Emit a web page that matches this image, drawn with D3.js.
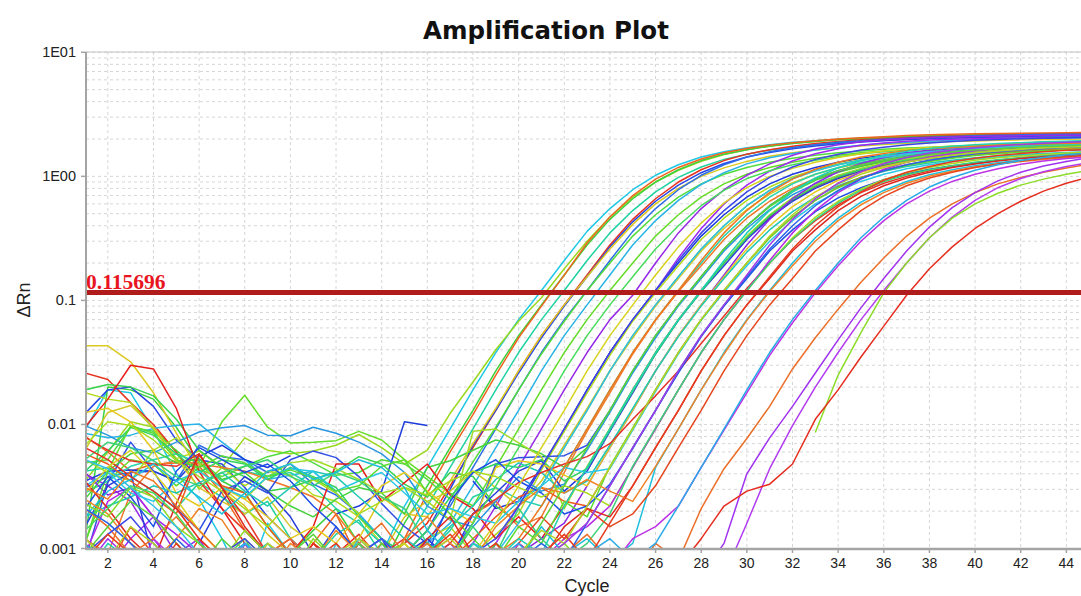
<!DOCTYPE html>
<html>
<head>
<meta charset="utf-8">
<script src="https://cdn.jsdelivr.net/npm/d3@7"></script>
<style>
  body { margin: 0; background: #fff; }
  svg { display: block; }
</style>
</head>
<body>
<svg id="chart" width="1081" height="596"></svg>
<script>
// Amplification plot - delta Rn per cycle, one line per well
const cycles = d3.range(1, 46);
const xTicks = d3.range(2, 46, 2);
const yTicks = [0.001, 0.01, 0.1, 1, 10];
const yTickLabels = ['0.001', '0.01', '0.1', '1E00', '1E01'];
const threshold = 0.115696;

const wellColors = [
  '#1ec8e6', '#9ad81e', '#3cd23c', '#f0641e', '#1ed2a0', '#e6321e', '#2846e6', '#dcc81e',
  '#2d6ee6', '#50dc3c', '#28b4e6', '#64dc28', '#9628e6', '#a028f0', '#1e3cdc', '#b4dc1e',
  '#3cd250', '#d2c828', '#28d2aa', '#f07828', '#3250e6', '#46d23c', '#2896e0', '#e61e1e',
  '#a0dc28', '#283cdc', '#32d264', '#8c28e6', '#e6c81e', '#1ec8b4', '#ee5a1e', '#28c8e6',
  '#5adc32', '#e63228', '#1e50e6', '#aadc1e', '#b428e6', '#3cd278', '#dc281e', '#1ebedc',
  '#f08228', '#e6461e', '#be32e6', '#ec6e28', '#a032f0', '#b43cf0', '#8cdc28', '#e62d1e',
  '#46dc5a', '#d7d21e', '#3c46e6', '#32bee6', '#f0781e', '#5ad23c', '#1ed2b4', '#2864e6',
  '#b4d228', '#e63c1e', '#a03ce6', '#28aae6'
];

// values for cycles 1..45 (null = negative reading, not drawn on log axis)
const wellValues = [
  [.009,.019,.018,.009,.004,.0025,.0012,.0005,.0016,.0009,.0004,.0011,.0006,.0009,.0022,
   .0045,.0092,.019,.038,.07,.12,.21,.36,.55,.78,1.02,1.24,1.43,1.58,1.7,
   1.8,1.88,1.94,1.99,2.03,2.07,2.1,2.12,2.14,2.16,2.17,2.18,2.19,2.2,2.21],
  [.0035,.006,.0105,.0095,.006,.003,.0045,.0078,.0062,.0058,.0061,.0068,.0083,.0065,.0048,
   .0062,.0123,.022,.04,.068,.105,.18,.3,.47,.68,.9,1.12,1.32,1.5,1.64,
   1.76,1.85,1.92,1.98,2.02,2.06,2.09,2.11,2.13,2.15,2.16,2.17,2.18,2.19,2.2],
  [.0012,.02,.019,.016,.0095,.005,.0035,.0028,.0015,.0009,.0014,.0021,.0011,.0007,.0016,
   .0032,.0065,.013,.027,.052,.092,.16,.28,.45,.66,.9,1.13,1.34,1.51,1.64,
   1.75,1.84,1.91,1.97,2.01,2.05,2.09,2.11,2.13,2.15,2.17,2.18,2.19,2.2,2.21],
  [.008,.006,.0042,.0048,.0049,.0046,.0028,.0014,.0009,.0006,.0011,.0019,.0008,.0005,.0012,
   .0028,.006,.012,.025,.05,.09,.16,.29,.47,.7,.95,1.18,1.38,1.55,1.68,
   1.78,1.87,1.94,2.0,2.05,2.09,2.13,2.16,2.18,2.2,2.22,2.23,2.24,2.25,2.26],
  [.0042,.0045,.0038,.0029,.0021,.0034,.0026,.0019,.0024,.0012,.0008,.0013,.0017,.0009,.0011,
   .0022,.0045,.0092,.019,.038,.07,.12,.21,.35,.53,.75,.98,1.19,1.37,1.51,
   1.63,1.72,1.8,1.86,1.91,1.95,1.98,2.01,2.03,2.05,2.06,2.07,2.08,2.09,2.1],
  [.026,.023,.015,.01,.006,.0035,.0021,.0014,.0009,.0012,.0006,.0009,.0013,.0008,.0011,
   .0016,.0032,.0065,.013,.027,.052,.092,.16,.28,.45,.66,.9,1.13,1.34,1.51,
   1.64,1.75,1.84,1.91,1.97,2.01,2.05,2.09,2.11,2.13,2.15,2.17,2.18,2.19,2.2],
  [.0122,.019,.02,.014,.0075,.0052,.0048,.0031,.0018,.0012,.0008,.0015,.0009,.0005,.0009,
   .0014,.003,.0068,.013,.026,.05,.09,.155,.27,.43,.63,.85,1.07,1.27,1.43,
   1.56,1.67,1.76,1.83,1.89,1.94,1.98,2.01,2.04,2.06,2.08,2.1,2.11,2.12,2.13],
  [.043,.043,.032,.018,.0085,.0042,.0031,.0022,.0013,.0009,.0005,.0007,.0012,.0026,.0019,
   .0018,.0035,.007,.0135,.027,.052,.092,.155,.26,.41,.6,.8,1.0,1.17,1.32,
   1.45,1.55,1.63,1.7,1.76,1.81,1.85,1.88,1.91,1.93,1.95,1.97,1.98,1.99,2.0],
  [.0031,.0038,.0041,.0042,.0035,.0068,.0055,.0052,.0041,.0048,.0033,.0027,.0019,.0012,.0008,
   .0011,.0022,.0045,.0092,.019,.038,.07,.12,.21,.36,.55,.78,1.02,1.24,1.43,
   1.58,1.7,1.8,1.88,1.94,1.99,2.03,2.07,2.1,2.12,2.14,2.16,2.17,2.18,2.19],
  [.0049,.0052,.0095,.0088,.0062,.0043,.0038,.0046,.0055,.0061,.0049,.0039,.0041,.0052,.0048,
   .0036,.0025,.005,.0095,.019,.037,.068,.12,.2,.33,.49,.68,.87,1.04,1.18,
   1.3,1.4,1.48,1.55,1.6,1.65,1.69,1.72,1.75,1.77,1.79,1.8,1.82,1.83,1.84],
  [.0085,.0078,.0082,.0093,.0098,.0101,.0072,.0052,.0036,.0039,.0042,.0028,.0019,.0012,.0009,
   .0011,.0016,.0032,.0065,.013,.027,.052,.092,.16,.28,.44,.64,.86,1.07,1.26,
   1.41,1.53,1.63,1.71,1.78,1.84,1.88,1.92,1.95,1.98,2.0,2.02,2.03,2.04,2.05],
  [.0011,.0035,.0052,.0048,.0032,.0045,.0105,.0172,.0095,.0071,.0072,.0074,.0088,.0075,.0052,
   .0038,.0028,.0022,.0045,.0092,.019,.038,.07,.12,.2,.33,.49,.68,.87,1.04,
   1.18,1.3,1.4,1.48,1.55,1.6,1.65,1.69,1.72,1.75,1.77,1.79,1.8,1.82,1.83],
  [.004,.0032,.0024,.0012,.0007,.0009,.0004,.0011,.0008,.0005,.0003,.0006,.0009,.0007,.0004,
   .0006,.0008,.0011,.0022,.0045,.0092,.019,.038,.07,.11,.2,.35,.55,.78,1.02,
   1.26,1.48,1.66,1.8,1.9,1.97,2.02,2.05,2.08,2.1,2.11,2.12,2.13,2.14,2.15],
  [.0009,.0007,.0012,.0018,.0013,.0009,.0005,.0011,.0008,.0006,.0004,.0007,.0005,.0009,.0006,
   .0012,.0008,.0005,.0011,.0022,.0045,.0092,.019,.038,.07,.12,.22,.38,.6,.85,
   1.1,1.33,1.52,1.67,1.78,1.86,1.92,1.96,1.99,2.01,2.03,2.04,2.05,2.06,2.07],
  [.0035,.0042,.0043,.0042,.0035,.0055,.0068,.0052,.0045,.0056,null,.0019,.0022,.0029,.0105,
   .0098,null,.0035,.0021,.0024,.0046,.009,.019,.038,.07,.12,.2,.33,.49,.68,
   .87,1.04,1.18,1.3,1.4,1.48,1.55,1.6,1.65,1.69,1.72,1.75,1.77,1.79,1.8],
  [.018,.016,.015,.0092,.0053,.0061,.0045,.0032,.0042,.0039,.0027,.0024,.0018,.0011,.0008,
   .0012,.0015,.0009,.0013,.0019,.0043,.0088,.018,.036,.068,.115,.19,.31,.46,.64,
   .82,.99,1.13,1.26,1.36,1.45,1.52,1.58,1.63,1.67,1.71,1.74,1.76,1.78,1.8],
  [.019,.021,.02,.017,.011,.0062,.0045,.0038,.0029,.0031,.0036,.0042,.0055,.0048,.0033,
   .0026,.0041,.0038,.0022,.0016,.0032,.0065,.013,.027,.052,.092,.155,.26,.4,.58,
   .77,.96,1.11,1.24,1.35,1.44,1.52,1.58,1.63,1.67,1.71,1.74,1.76,1.78,1.8],
  [.0062,.0125,.0142,.0095,.0053,.0031,.0024,.0019,.0026,.0015,.0011,.0008,.0012,.0009,.0018,
   .0024,.0029,.0042,.0031,.0022,.0035,.0068,.0135,.027,.05,.09,.15,.25,.38,.54,
   .72,.89,1.04,1.17,1.28,1.37,1.45,1.51,1.56,1.61,1.65,1.68,1.71,1.73,1.75],
  [.0028,.0035,.0046,.0052,.0058,.0049,.0035,.0042,.0038,.0041,.0032,.0021,.0016,.0011,.0007,
   .0009,.0014,.0026,.0031,.0025,.0022,.0045,.0092,.019,.038,.07,.12,.2,.33,.49,
   .68,.87,1.04,1.18,1.3,1.4,1.48,1.55,1.6,1.65,1.69,1.72,1.75,1.77,1.79],
  [.0012,.0009,.0028,.0046,.0051,.0048,.0045,.0042,.0036,.0031,.0026,.0019,.0011,.0008,.0006,
   .0009,.0012,.0019,.0024,.0015,.0018,.0041,.0088,.018,.037,.069,.118,.19,.31,.46,
   .63,.8,.96,1.1,1.22,1.32,1.4,1.47,1.53,1.58,1.62,1.66,1.69,1.71,1.73],
  [.0008,.0034,.0072,.0042,.0021,.0014,.0029,.0035,.0028,.0052,.0061,.0054,.0038,.0023,.0015,
   .0011,.0009,.0016,.0048,.0054,.0055,.0056,.0068,.013,.027,.052,.092,.155,.26,.4,
   .58,.77,.96,1.11,1.24,1.35,1.44,1.52,1.58,1.63,1.67,1.71,1.74,1.76,1.78],
  [.0025,.0042,.0058,.0062,.0049,.0053,.0036,.0041,.0029,.0022,.0018,.0025,.0031,.0028,.0019,
   .0045,.0051,.0062,.0075,.0068,.0058,.0045,.0065,.013,.027,.052,.092,.155,.26,.4,
   .57,.75,.93,1.08,1.2,1.31,1.4,1.48,1.54,1.59,1.63,1.67,1.7,1.72,1.74],
  [.0098,.0082,.0065,.0059,.0072,.0087,.0094,.0098,.0082,.0081,.0095,.0085,.0072,.0058,.0041,
   .0022,.0017,.0015,.0024,.0038,.0029,.0033,.0062,.0125,.026,.05,.09,.15,.25,.38,
   .54,.71,.87,1.01,1.13,1.23,1.32,1.39,1.45,1.5,1.54,1.58,1.61,1.63,1.65],
  [.0095,.016,.03,.028,.0135,.0042,.0021,.0011,.0006,.0009,.0015,.0048,.0048,.0024,.0034,
   .0048,.0027,.0021,.0012,.0018,.0012,.0022,.0045,.0092,.019,.038,.07,.12,.2,.32,
   .47,.64,.82,.98,1.12,1.24,1.34,1.42,1.49,1.54,1.58,1.62,1.65,1.68,1.7],
  [.0052,.0041,.0035,.0062,.0078,.0049,.0032,.0025,.0038,.0049,.0052,.0044,.0036,.0028,.0031,
   .0024,.0017,.0088,.0092,.0071,.0055,.0021,.0046,.0093,.019,.038,.07,.12,.2,.33,
   .49,.67,.85,1.02,1.16,1.28,1.38,1.46,1.53,1.58,1.63,1.67,1.7,1.73,1.75],
  [.0015,.0032,.0041,.0008,null,.0011,.0024,.0038,.0029,.0018,.0009,.0006,.0011,.0007,.0009,
   .0012,.0008,.0019,.0028,.0042,.0051,.0029,.0042,.0088,.018,.037,.069,.118,.19,.31,
   .46,.63,.8,.96,1.1,1.21,1.31,1.39,1.45,1.5,1.54,1.58,1.61,1.63,1.65],
  [.0042,.0061,.0095,.0082,.0058,.0041,.0052,.0048,.0036,.0045,.0038,.0031,.0018,.0012,.0009,
   .0014,.0026,.0041,.0048,.0045,.0052,.0035,.0044,.009,.0185,.037,.069,.118,.2,.32,
   .48,.65,.83,.99,1.13,1.25,1.35,1.43,1.5,1.55,1.59,1.63,1.66,1.69,1.71],
  [.0041,.0027,.0031,.0018,.0009,.0012,.0006,.0008,.0005,.0003,.0007,.0004,.0009,.0006,.0005,
   .0008,.0011,.0007,.0005,.0009,.0012,.0016,.0032,.0065,.013,.027,.052,.092,.16,.28,
   .45,.66,.88,1.09,1.27,1.42,1.54,1.63,1.7,1.76,1.81,1.85,1.88,1.9,1.92],
  [.0125,.0135,.0105,.0062,.0028,.0022,.0031,.0025,.0018,.0012,.0015,.0011,.0019,.0032,.0041,
   .0029,.0021,.0016,.0045,.0051,.0048,.0039,.0032,.0065,.013,.027,.052,.092,.155,.26,
   .4,.57,.75,.93,1.08,1.2,1.31,1.4,1.47,1.53,1.58,1.62,1.65,1.68,1.7],
  [.0018,.0022,.0026,.0032,.0028,.0034,.0041,.0029,.0022,.0031,.0042,.0038,.0026,.0018,.0012,
   .0009,.0015,.0022,.0036,.0049,.0041,.0028,.0035,.0068,.0135,.027,.051,.09,.15,.245,
   .37,.52,.68,.84,.98,1.1,1.2,1.28,1.35,1.41,1.46,1.5,1.53,1.56,1.58],
  [.0058,.0048,.0035,.0026,.0019,.0057,.0032,.0028,.0015,.0009,.0006,.0004,.0007,.0011,.0009,
   .0005,.0008,.0012,.0018,.0026,.0031,.0024,.0022,.0045,.0092,.019,.038,.07,.12,.2,
   .32,.47,.64,.82,.98,1.12,1.24,1.34,1.42,1.49,1.54,1.58,1.62,1.65,1.68],
  [.0032,.0041,.0028,.0024,.0035,.0042,.0031,.0026,.0038,.0044,.0042,.0029,.0035,.0041,.0028,
   .0019,.0021,.0018,.0016,.0024,.0032,.0045,.0041,.0044,.009,.0185,.037,.069,.117,.19,
   .3,.44,.6,.76,.91,1.04,1.15,1.24,1.32,1.38,1.43,1.47,1.51,1.54,1.56],
  [.0011,.0042,.0098,.0085,.0052,.0045,.0056,.0049,.0038,.0043,.0037,.0029,.0032,.0046,.0052,
   .0028,.0019,.0012,.0008,.0015,.0011,.0024,.0018,.0046,.0094,.019,.038,.07,.12,.2,
   .32,.47,.64,.81,.97,1.11,1.22,1.32,1.4,1.47,1.52,1.57,1.61,1.64,1.67],
  [.0079,.0062,.0051,.0048,.0046,.0058,.0031,.0018,.0009,.0005,.0008,.0006,.0004,.0009,.0012,
   .0008,.0011,.0019,.0025,.0034,.0041,.0048,.0055,.007,.011,.017,.027,.045,.075,.125,
   .2,.31,.44,.59,.74,.88,1.0,1.11,1.2,1.28,1.35,1.41,1.46,1.5,1.53],
  [.0021,.0038,.0026,.0015,.0042,.0065,.0052,.0041,.0048,.0035,.0022,.0015,.0009,.0012,.0006,
   .0009,.0024,.0041,.0052,.0035,.0028,.0019,.0022,.0033,.0064,.013,.026,.051,.09,.15,
   .25,.37,.52,.67,.81,.94,1.05,1.14,1.22,1.29,1.35,1.4,1.44,1.47,1.5],
  [.0068,.0105,.0098,.0075,.0051,.0038,.0029,.0021,.0015,.0024,.0036,.0028,.0019,.0024,.0031,
   .0027,.0035,.0042,.0038,.0031,.0026,.0032,.0028,.0022,.0045,.0092,.019,.038,.07,.12,
   .2,.32,.47,.63,.79,.94,1.07,1.18,1.27,1.35,1.41,1.46,1.5,1.54,1.57],
  [.0009,.0024,.0031,.0018,.0011,.0007,.0005,.0009,.0006,.0008,.0004,.0006,.0009,.0012,.0008,
   .0005,.0007,.0011,.0009,.0006,.0008,.0012,.0015,.0022,.0045,.0092,.019,.038,.07,.12,
   .21,.35,.53,.74,.95,1.14,1.3,1.43,1.53,1.61,1.67,1.72,1.76,1.79,1.81],
  [.0052,.0072,.0065,.0051,.0038,.0032,.0041,.0046,.0052,.0038,.0032,.0041,.0035,.0026,.0021,
   .0011,.0008,.0015,.0009,.0021,.0012,.0008,.0011,.0019,.0046,.0094,.019,.038,.07,.12,
   .2,.31,.45,.61,.77,.91,1.03,1.13,1.22,1.3,1.36,1.41,1.46,1.5,1.53],
  [.0035,.0021,.0012,.0008,.0023,.0058,.0031,.0015,.0009,.0006,.0011,.0008,.0005,.0009,.0007,
   .0012,.0018,.0009,.0006,.0011,.0008,.0015,.0021,.0018,.0032,.0065,.013,.027,.052,.092,
   .15,.25,.37,.53,.69,.84,.97,1.08,1.18,1.26,1.33,1.39,1.44,1.48,1.52],
  [.0018,.0029,.0036,.0048,.0035,.0026,.0019,.0028,.0042,.0048,.0036,.0041,.0052,.0045,.0031,
   .0014,.0009,.0006,.0011,.0008,.0015,.0009,.0012,.0008,.0011,.0045,.0092,.019,.038,.07,
   .12,.2,.32,.46,.62,.77,.91,1.03,1.13,1.22,1.29,1.35,1.4,1.44,1.48],
  [.0025,.0019,.0011,.0008,.0012,.0021,.0017,.0009,.0006,.0011,.0008,.0014,.0009,.0006,.0012,
   .0018,.0011,.0008,.0015,.0022,.0031,.0028,.0036,.0029,.0024,.0046,.0092,.019,.037,.069,
   .118,.19,.3,.44,.59,.74,.88,1.0,1.1,1.19,1.26,1.32,1.37,1.41,1.45],
  [.0011,.0007,.0015,.0009,.0006,.0012,.0008,.0005,.0009,.0006,.0004,.0008,.0011,.0007,.0005,
   .0009,.0013,.0008,.0006,.0011,.0018,.0012,.0021,.0015,.0019,.0032,.0065,.013,.027,.052,
   .092,.15,.25,.37,.53,.69,.84,.97,1.08,1.18,1.26,1.33,1.39,1.44,1.48],
  [.0006,.0009,.0005,.0012,.0008,.0004,.0007,.0011,.0006,.0004,.0008,.0005,.0009,.0006,.0004,
   .0007,.0005,.0009,.0006,.0011,.0008,.0005,.0009,.0007,.0012,.0015,.0022,.0045,.009,.018,
   .036,.066,.115,.19,.3,.44,.6,.76,.91,1.04,1.15,1.25,1.33,1.39,1.44],
  [.0021,.0015,.0009,.0012,.0018,.0011,.0007,.0005,.0009,.0012,.0008,.0006,.0011,.0016,.0009,
   .0006,.0004,.0008,.0011,.0007,.0005,.0009,.0013,.0008,.0006,.0011,.0008,.0021,.0044,.0077,
   .014,.028,.05,.085,.14,.22,.33,.46,.6,.74,.87,.98,1.08,1.17,1.25],
  [.0007,.0012,.0008,.0005,.0009,.0006,.0004,.0007,.0005,.0003,.0006,.0008,.0005,.0004,.0007,
   .0005,.0003,.0006,.0004,.0007,.0005,.0008,.0006,.0004,.0007,.0005,.0004,.0006,.0011,.004,
   .0078,.014,.026,.048,.087,.15,.25,.39,.56,.74,.92,1.08,1.21,1.32,1.41],
  [.0005,.0008,.0006,.0004,.0007,.0009,.0005,.0003,.0006,.0004,.0008,.0005,.0007,.0004,.0006,
   .0004,.0007,.0005,.0003,.0006,.0004,.0005,.0007,.0004,.0006,.0003,.0005,.0004,.0006,.0016,
   .0044,.0098,.02,.038,.07,.12,.2,.32,.47,.64,.81,.96,1.09,1.2,1.29],
  [.0023,.0018,.0031,.0026,.0015,.0011,.0008,.0014,.0009,.0006,.0012,.0008,.0005,.0009,.0011,
   .0007,.0005,.0009,.0006,.0004,.0008,.0011,.0007,.0005,.0008,.0006,null,null,null,null,
   null,null,.0086,.025,.055,.115,.2,.32,.46,.6,.73,.85,.95,1.04,1.12],
  [.0065,.0052,.0038,.0029,.0021,.0012,.0008,.0005,.0009,.0006,.0011,.0007,.0005,.0008,.0006,
   .0004,.0007,.0005,.0009,.0006,.0004,.0007,.0005,.0008,.0006,.0004,.0007,.0012,.0022,.0029,
   .0033,.0048,.011,.019,.035,.062,.11,.18,.27,.38,.5,.63,.76,.88,.99],
  [.0014,.0021,.0032,.0028,.0019,.0011,.0008,.0012,.0006,.0009,.0005,.0008,.0011,.0007,.0005,
   .0009,.0008,.0016,.0032,.0065,.013,.027,.052,.092,.155,.26,.4,.58,.77,.96,
   1.11,1.24,1.35,1.44,1.52,1.58,1.63,1.67,1.71,1.74,1.76,1.78,1.8,1.81,1.82],
  [.0028,.0045,.0062,.0041,.0025,.0014,.0009,.0012,.0008,.0005,.0009,.0006,.0004,.0008,.0011,
   .0007,.0005,.0009,.0016,.0032,.0065,.013,.027,.052,.092,.16,.27,.42,.61,.81,
   1.0,1.16,1.3,1.42,1.52,1.6,1.66,1.71,1.75,1.78,1.81,1.83,1.85,1.86,1.87],
  [.0009,.0013,.0018,.0011,.0007,.0005,.0009,.0012,.0008,.0005,.0003,.0007,.0005,.0009,.0006,
   .0004,.0007,.0009,.0012,.0022,.0045,.0092,.019,.038,.07,.12,.21,.35,.53,.75,
   .98,1.19,1.37,1.51,1.63,1.72,1.8,1.86,1.91,1.95,1.98,2.01,2.03,2.05,2.06],
  [.0052,.0044,.0031,.0022,.0015,.0009,.0006,.0011,.0008,.0005,.0009,.0006,.0012,.0008,.0005,
   .0008,.0006,.0011,.0009,.0016,.0032,.0065,.013,.027,.052,.092,.155,.26,.4,.58,
   .77,.96,1.11,1.24,1.35,1.44,1.52,1.58,1.63,1.67,1.71,1.74,1.76,1.78,1.8],
  [.0031,.0025,.0042,.0035,.0022,.0014,.0009,.0006,.0011,.0008,.0005,.0009,.0006,.0004,.0008,
   .0011,.0007,.0005,.0009,.0012,.0022,.0045,.0092,.019,.038,.07,.12,.21,.35,.53,
   .74,.95,1.14,1.3,1.43,1.53,1.61,1.67,1.72,1.76,1.79,1.81,1.83,1.85,1.86],
  [.0009,.0015,.0024,.0018,.0011,.0007,.0012,.0008,.0005,.0009,.0013,.0008,.0006,.0011,.0007,
   .0005,.0009,.0006,.0011,.0008,.0016,.0032,.0065,.013,.027,.052,.092,.155,.26,.4,
   .58,.77,.96,1.11,1.24,1.35,1.44,1.52,1.58,1.63,1.67,1.71,1.74,1.76,1.78],
  [.0006,.0011,.0008,.0005,.0009,.0006,.0004,.0008,.0011,.0007,.0005,.0009,.0006,.0004,.0007,
   .0009,.0006,.0011,.0008,.0012,.0009,.0022,.0045,.0092,.019,.038,.07,.12,.21,.35,
   .53,.75,.97,1.17,1.34,1.48,1.59,1.68,1.75,1.8,1.84,1.87,1.9,1.92,1.94],
  [.0021,.0016,.0011,.0007,.0012,.0008,.0005,.0009,.0006,.0004,.0008,.0005,.0009,.0012,.0008,
   .0005,.0009,.0006,.0004,.0008,.0011,.0008,.0016,.0032,.0065,.013,.027,.052,.092,.155,
   .26,.4,.58,.77,.96,1.11,1.24,1.35,1.44,1.52,1.58,1.63,1.67,1.71,1.74],
  [.0012,.0008,.0015,.0011,.0007,.0005,.0009,.0006,.0011,.0008,.0005,.0009,.0012,.0008,.0006,
   .0009,.0012,.0008,.0005,.0009,.0014,.0011,.0022,.0045,.0092,.019,.038,.07,.12,.2,
   .33,.49,.68,.87,1.04,1.18,1.3,1.4,1.48,1.55,1.6,1.65,1.69,1.72,1.75],
  [.0008,.0013,.0009,.0006,.0011,.0007,.0005,.0009,.0006,.0004,.0008,.0011,.0007,.0005,.0009,
   .0006,.0004,.0008,.0011,.0007,.0009,.0013,.0008,.0016,.0032,.0065,.013,.027,.052,.092,
   .155,.26,.4,.57,.75,.93,1.08,1.2,1.31,1.4,1.47,1.53,1.58,1.62,1.65],
  [.0005,.0008,.0006,.0004,.0007,.0009,.0005,.0003,.0006,.0004,.0008,.0005,.0007,.0004,.0006,
   .0004,.0007,.0005,.0003,.0006,.0008,.0011,.0016,.0032,.0065,.013,.027,.052,.092,.16,
   .28,.45,.66,.88,1.09,1.27,1.42,1.54,1.63,1.7,1.76,1.81,1.85,1.88,1.9],
  [.0011,.0007,.0005,.0009,.0006,.0004,.0008,.0011,.0007,.0005,.0009,.0006,.0004,.0008,.0005,
   .0009,.0006,.0004,.0008,.0011,.0007,.0005,.0009,.0012,.0008,.0011,.0022,.0045,.0092,.019,
   .038,.07,.12,.2,.32,.47,.64,.82,.98,1.12,1.24,1.34,1.42,1.49,1.54]
];

const svg = d3.select('#chart');
const plot = { left: 86, right: 1081, top: 52, bottom: 549 };

const x = d3.scaleLinear().domain([1, 46]).range([85, 1112]);
const y = d3.scaleLog().domain([0.001, 10]).range([548.5, 52.3]);

const sans = '"Liberation Sans", Arial, sans-serif';

// title
svg.append('text')
    .attr('x', 546).attr('y', 39)
    .attr('text-anchor', 'middle')
    .style('font-family', '"DejaVu Sans", Verdana, sans-serif')
    .style('font-weight', 'bold')
    .style('font-size', '24.5px')
    .style('fill', '#111')
    .text('Amplification Plot');

// grid
const grid = svg.append('g').attr('class', 'grid');
const minorY = [];
[0.001, 0.01, 0.1, 1].forEach(d => d3.range(1, 10).forEach(m => minorY.push(d * m)));
minorY.push(10);

grid.selectAll('.hgrid')
    .data(minorY)
    .enter()
    .append('line')
    .attr('x1', plot.left).attr('x2', plot.right)
    .attr('y1', d => y(d)).attr('y2', d => y(d))
    .style('stroke', '#d6d6d6')
    .style('stroke-width', 1)
    .style('stroke-dasharray', '3,3');

grid.selectAll('.vgrid')
    .data(xTicks)
    .enter()
    .append('line')
    .attr('x1', d => x(d)).attr('x2', d => x(d))
    .attr('y1', plot.top).attr('y2', plot.bottom)
    .style('stroke', '#d6d6d6')
    .style('stroke-width', 1)
    .style('stroke-dasharray', '3,3');

grid.append('line')
    .attr('x1', plot.left).attr('x2', plot.right)
    .attr('y1', plot.top).attr('y2', plot.top)
    .style('stroke', '#c4c4c4')
    .style('stroke-width', 1.2);

// curves
svg.append('clipPath').attr('id', 'plotClip')
    .append('rect')
    .attr('x', plot.left).attr('y', plot.top)
    .attr('width', plot.right - plot.left).attr('height', plot.bottom - plot.top);

const line = d3.line()
    .defined(d => d.v != null && d.v > 0)
    .x(d => x(d.c))
    .y(d => y(Math.max(d.v, 1e-5)));

svg.append('g')
    .attr('clip-path', 'url(#plotClip)')
    .selectAll('.well')
    .data(wellValues)
    .enter()
    .append('path')
    .attr('class', 'well')
    .attr('d', vals => line(cycles.map((c, i) => ({ c: c, v: vals[i] }))))
    .style('fill', 'none')
    .style('stroke', (d, i) => wellColors[i])
    .style('stroke-width', 1.5)
    .style('stroke-linejoin', 'round');

// threshold
svg.append('line')
    .attr('x1', plot.left).attr('x2', plot.right)
    .attr('y1', y(threshold)).attr('y2', y(threshold))
    .style('stroke', '#b01c1c')
    .style('stroke-width', 5);

svg.append('text')
    .attr('x', plot.left).attr('y', y(threshold) - 4)
    .style('font-family', '"Liberation Serif", "Times New Roman", serif')
    .style('font-weight', 'bold')
    .style('font-size', '21.5px')
    .style('fill', '#e8141e')
    .text(threshold.toString());

// axes
const axisColor = '#a4a4a4';
svg.append('line')
    .attr('x1', plot.left).attr('x2', plot.left)
    .attr('y1', plot.top).attr('y2', plot.bottom + 1)
    .style('stroke', axisColor).style('stroke-width', 2);
svg.append('line')
    .attr('x1', plot.left).attr('x2', plot.right)
    .attr('y1', plot.bottom).attr('y2', plot.bottom)
    .style('stroke', axisColor).style('stroke-width', 2.5);

svg.selectAll('.ytick')
    .data(yTicks)
    .enter()
    .append('line')
    .attr('x1', plot.left - 5).attr('x2', plot.left)
    .attr('y1', d => y(d)).attr('y2', d => y(d))
    .style('stroke', axisColor).style('stroke-width', 1.5);

svg.selectAll('.ylabel')
    .data(yTicks)
    .enter()
    .append('text')
    .attr('x', 76).attr('y', d => y(d) + 5)
    .attr('text-anchor', 'end')
    .style('font-family', sans)
    .style('font-size', '14.5px')
    .style('fill', '#222')
    .text((d, i) => yTickLabels[i]);

svg.selectAll('.xtick')
    .data(xTicks)
    .enter()
    .append('line')
    .attr('x1', d => x(d)).attr('x2', d => x(d))
    .attr('y1', plot.bottom).attr('y2', plot.bottom + 4)
    .style('stroke', axisColor).style('stroke-width', 1.5);

svg.selectAll('.xlabel')
    .data(xTicks)
    .enter()
    .append('text')
    .attr('x', d => x(d)).attr('y', 568)
    .attr('text-anchor', 'middle')
    .style('font-family', sans)
    .style('font-size', '14px')
    .style('fill', '#222')
    .text(d => d);

svg.append('text')
    .attr('x', 587).attr('y', 592)
    .attr('text-anchor', 'middle')
    .style('font-family', sans)
    .style('font-size', '18px')
    .style('fill', '#222')
    .text('Cycle');

svg.append('text')
    .attr('transform', 'translate(30,300) rotate(-90)')
    .attr('text-anchor', 'middle')
    .style('font-family', sans)
    .style('font-size', '18px')
    .style('fill', '#222')
    .text('ΔRn');
</script>
</body>
</html>
